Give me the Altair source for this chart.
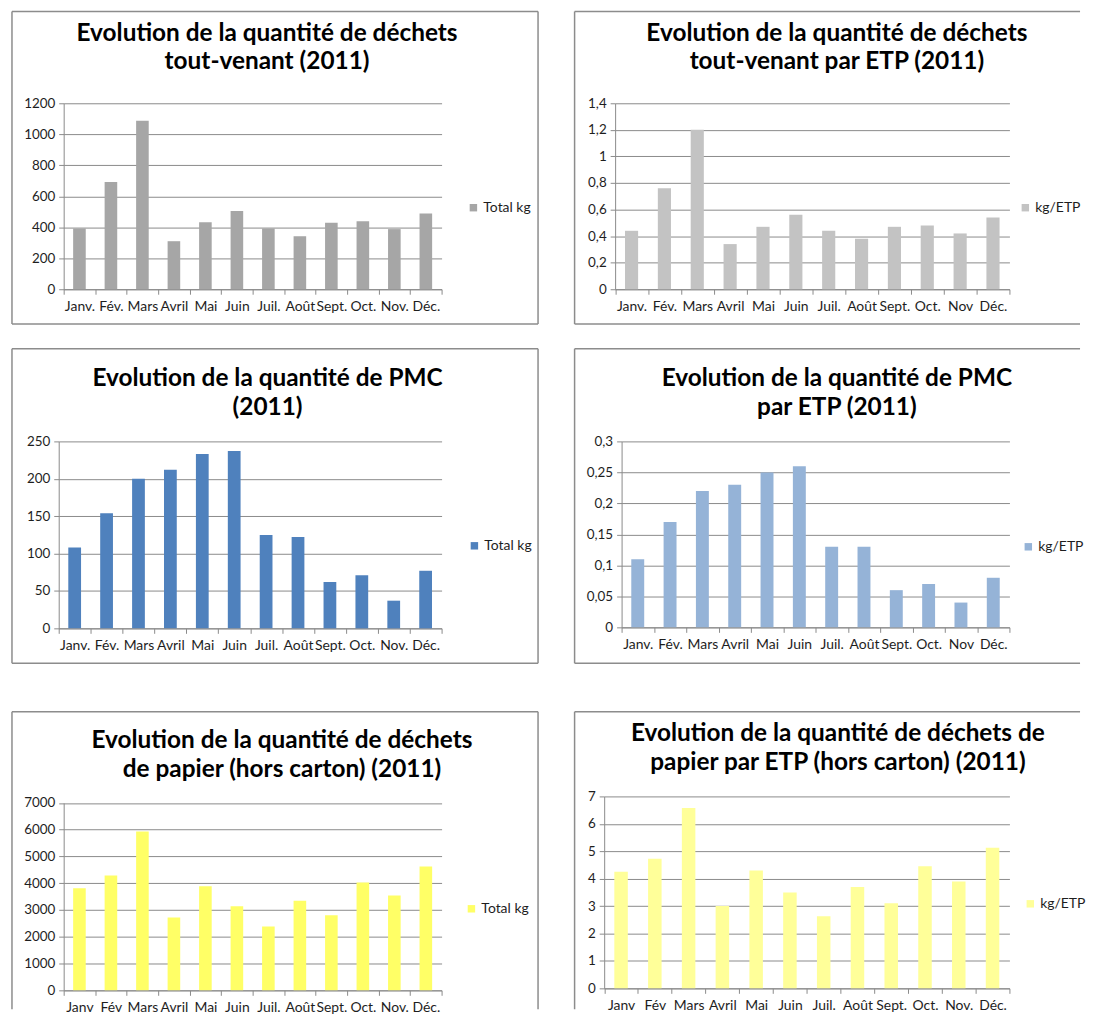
import altair as alt
import pandas as pd

# ---------------- data ----------------
mois_a = ["Janv.", "Fév.", "Mars", "Avril", "Mai", "Juin", "Juil.", "Août", "Sept.", "Oct.", "Nov.", "Déc."]
mois_b = ["Janv.", "Fév.", "Mars", "Avril", "Mai", "Juin", "Juil.", "Août", "Sept.", "Oct.", "Nov", "Déc."]
mois_c = ["Janv", "Fév", "Mars", "Avril", "Mai", "Juin", "Juil.", "Août", "Sept.", "Oct.", "Nov.", "Déc."]

tv_total = [392, 692, 1088, 310, 433, 505, 392, 342, 429, 438, 388, 489]
tv_etp = [0.44, 0.76, 1.2, 0.34, 0.47, 0.56, 0.44, 0.38, 0.47, 0.48, 0.42, 0.54]
pmc_total = [108, 154, 200, 212, 233, 237, 125, 122, 62, 71, 37, 77]
pmc_etp = [0.11, 0.17, 0.22, 0.23, 0.25, 0.26, 0.13, 0.13, 0.06, 0.07, 0.04, 0.08]
pap_total = [3810, 4290, 5930, 2720, 3890, 3140, 2380, 3350, 2800, 4030, 3540, 4620]
pap_etp = [4.25, 4.73, 6.58, 3.0, 4.3, 3.5, 2.63, 3.7, 3.1, 4.45, 3.9, 5.13]

ticks_tv_total = [0, 200, 400, 600, 800, 1000, 1200]
ticks_tv_etp = [0, 0.2, 0.4, 0.6, 0.8, 1, 1.2, 1.4]
ticks_pmc_total = [0, 50, 100, 150, 200, 250]
ticks_pmc_etp = [0, 0.05, 0.1, 0.15, 0.2, 0.25, 0.3]
ticks_pap_total = [0, 1000, 2000, 3000, 4000, 5000, 6000, 7000]
ticks_pap_etp = [0, 1, 2, 3, 4, 5, 6, 7]

titles = [
    ["Evolution de la quantité de déchets", "tout-venant (2011)"],
    ["Evolution de la quantité de déchets", "tout-venant par ETP (2011)"],
    ["Evolution de la quantité de PMC", "(2011)"],
    ["Evolution de la quantité de PMC", "par ETP (2011)"],
    ["Evolution de la quantité de déchets", "de papier (hors carton) (2011)"],
    ["Evolution de la quantité de déchets de", "papier par ETP (hors carton) (2011)"],
]

FONT = "Lato"
GRID = "#8a8a8a"
BORDER = "#8c8c8c"
TEXT = "#1e1e1e"

one = pd.DataFrame({"k": [0]})


def seg(xa, ya, xb, yb):
    return alt.Chart(one).mark_rule(color=BORDER, strokeWidth=1.5).encode(
        x=alt.value(xa), x2=alt.value(xb), y=alt.value(ya), y2=alt.value(yb)
    )


def panel(months, values, series, color, ymax, yticks, title_lines,
          W, H, plot, box, title_xy, legend_xy):
    x0, x1, yb, yt = plot
    df = pd.DataFrame({"Mois": months, "Valeur": values, "Série": [series] * len(months)})
    bars = alt.Chart(df).mark_bar(width={"band": 0.4}).encode(
        x=alt.X("Mois:N", sort=months, title=None,
                scale=alt.Scale(range=[x0, x1], paddingInner=0, paddingOuter=0),
                axis=alt.Axis(orient="bottom", offset=-(H - yb), labelAngle=0,
                              tickBand="extent", grid=False, labelOverlap=False,
                              labelPadding=5, tickSize=5, labelFontSize=14)),
        y=alt.Y("Valeur:Q", title=None,
                scale=alt.Scale(domain=[0, ymax], range=[yb, yt], nice=False, zero=True),
                axis=alt.Axis(orient="left", offset=-x0, values=yticks, grid=True,
                              labelPadding=4, tickSize=5, labelFontSize=13.5,
                              labelExpr="replace(toString(datum.value), '.', ',')")),
        color=alt.Color("Série:N",
                        scale=alt.Scale(domain=[series], range=[color]),
                        legend=alt.Legend(title=None, orient="none",
                                          legendX=legend_xy[0], legendY=legend_xy[1],
                                          symbolType="square", symbolSize=56,
                                          symbolStrokeWidth=0, labelOffset=3,
                                          labelFont=FONT, labelFontSize=14,
                                          labelColor=TEXT, padding=0)),
    )
    left, top, right, bottom = box
    rx = right if right is not None else W
    layers = [seg(left, top, rx, top), seg(left, top, left, bottom if bottom is not None else H)]
    if right is not None:
        layers.append(seg(right, top, right, bottom if bottom is not None else H))
    if bottom is not None:
        layers.append(seg(left, bottom, rx, bottom))
    title = alt.Chart(one).mark_text(
        text=title_lines, font=FONT, fontWeight="bold", fontSize=24.5, lineHeight=29,
        align="center", baseline="alphabetic", color="#000000"
    ).encode(x=alt.value(title_xy[0]), y=alt.value(title_xy[1]))
    return alt.layer(*layers, bars, title).properties(width=W, height=H)


WL, WR = 569, 509
H1, H2, H3 = 339, 365, 300

p1 = panel(mois_a, tv_total, "Total kg", "#a6a6a6", 1200, ticks_tv_total, titles[0],
           WL, H1, (56, 436, 280, 93), (4, 0.75, 533, 315), (260.5, 30), (461, 191))
p2 = panel(mois_b, tv_etp, "kg/ETP", "#c3c3c3", 1.4, ticks_tv_etp, titles[1],
           WR, H1, (41.5, 438, 280, 93), (0.75, 0.75, None, 315), (264.5, 30), (447, 191))
p3 = panel(mois_a, pmc_total, "Total kg", "#4f81bd", 250, ticks_pmc_total, titles[2],
           WL, H2, (51, 436, 282, 94), (4, 0.75, 533, 317), (261, 38), (462, 192))
p4 = panel(mois_b, pmc_etp, "kg/ETP", "#95b3d7", 0.3, ticks_pmc_etp, titles[3],
           WR, H2, (48, 438, 281, 94), (0.75, 0.75, None, 317), (264.5, 38), (450, 193))
p5 = panel(mois_c, pap_total, "Total kg", "#ffff66", 7000, ticks_pap_total, titles[4],
           WL, H3, (56, 436, 281, 92.5), (4, 0.75, 533, None), (275.5, 37), (459, 192))
p6 = panel(mois_c, pap_etp, "kg/ETP", "#ffff99", 7, ticks_pap_etp, titles[5],
           WR, H3, (30.5, 438, 279, 86), (0.75, 0.75, None, None), (265.5, 30), (452, 187))

chart = alt.concat(p1, p2, p3, p4, p5, p6, columns=2, spacing=0, bounds="flush").resolve_scale(
    x="independent", y="independent", color="independent"
).resolve_legend(color="independent").properties(padding=0).configure_view(
    stroke=None
).configure_axis(
    labelFont=FONT, labelFontSize=13, labelColor=TEXT,
    domainColor=GRID, tickColor=GRID, gridColor=GRID, gridWidth=1, domainWidth=1,
).configure_concat(spacing=0)

chart.save("out.html", embed_options={"renderer": "svg", "actions": False})
